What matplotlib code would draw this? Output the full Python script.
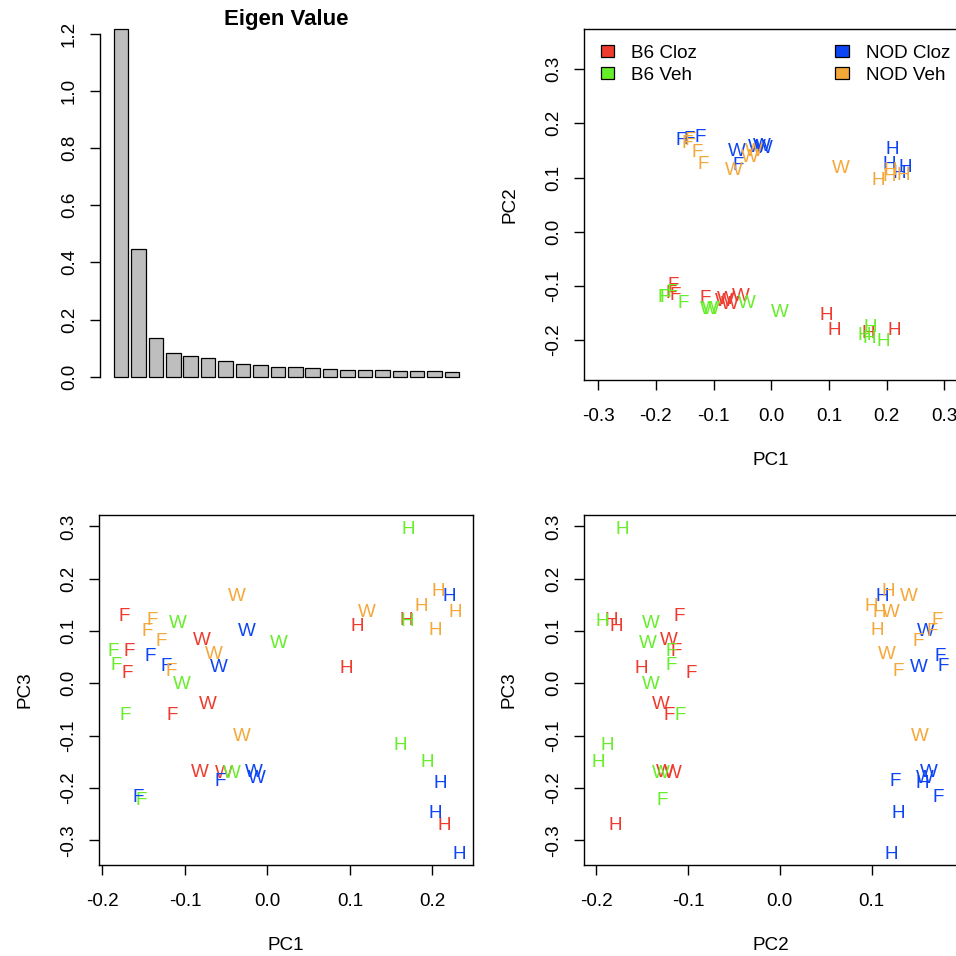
import numpy as np
import matplotlib
matplotlib.use('Agg')
import matplotlib.pyplot as plt
from matplotlib.patches import Patch
import matplotlib.transforms as mtransforms

plt.rcParams['font.family'] = ['Liberation Sans', 'DejaVu Sans']
plt.rcParams['axes.unicode_minus'] = False

# ---------------- data ----------------
eigen_values = [1.214, 0.446, 0.136, 0.084, 0.072, 0.064, 0.056, 0.044, 0.040, 0.035,
                0.033, 0.030, 0.026, 0.024, 0.023, 0.022, 0.020, 0.019, 0.019, 0.018]

groups = ['B6 Cloz', 'B6 Veh', 'NOD Cloz', 'NOD Veh']
group_colors = ['#EE3B2E', '#66EE2A', '#0D45F5', '#F5A83A']

tissue = ['F', 'F', 'F', 'F', 'W', 'W', 'W', 'W', 'H', 'H', 'H', 'H']

b6_cloz_pc1 = [-0.174, -0.167, -0.170, -0.115, -0.079, -0.072, -0.082, -0.053, 0.109, 0.168, 0.095, 0.214]
b6_cloz_pc2 = [-0.110, -0.113, -0.096, -0.120, -0.121, -0.130, -0.125, -0.116, -0.178, -0.184, -0.151, -0.179]
b6_cloz_pc3 = [0.132, 0.065, 0.024, -0.057, 0.086, -0.037, -0.166, -0.169, 0.113, 0.124, 0.033, -0.268]

b6_veh_pc1 = [-0.187, -0.183, -0.172, -0.153, -0.108, 0.0145, -0.104, -0.043, 0.171, 0.170, 0.161, 0.194]
b6_veh_pc2 = [-0.118, -0.118, -0.108, -0.128, -0.140, -0.144, -0.140, -0.129, -0.172, -0.193, -0.188, -0.198]
b6_veh_pc3 = [0.065, 0.038, -0.057, -0.220, 0.119, 0.081, 0.002, -0.169, 0.298, 0.123, -0.114, -0.147]

nod_cloz_pc1 = [-0.142, -0.123, -0.057, -0.156, -0.025, -0.059, -0.017, -0.013, 0.221, 0.209, 0.204, 0.232]
nod_cloz_pc2 = [0.175, 0.178, 0.126, 0.173, 0.159, 0.152, 0.162, 0.158, 0.112, 0.155, 0.129, 0.122]
nod_cloz_pc3 = [0.056, 0.037, -0.184, -0.214, 0.104, 0.035, -0.166, -0.178, 0.170, -0.188, -0.244, -0.323]

nod_veh_pc1 = [-0.140, -0.146, -0.129, -0.117, -0.037, 0.120, -0.065, -0.031, 0.207, 0.186, 0.228, 0.204]
nod_veh_pc2 = [0.172, 0.166, 0.151, 0.129, 0.141, 0.121, 0.1165, 0.153, 0.118, 0.0995, 0.108, 0.106]
nod_veh_pc3 = [0.124, 0.103, 0.084, 0.027, 0.171, 0.140, 0.059, -0.097, 0.180, 0.152, 0.140, 0.106]

pc1_by_group = [b6_cloz_pc1, b6_veh_pc1, nod_cloz_pc1, nod_veh_pc1]
pc2_by_group = [b6_cloz_pc2, b6_veh_pc2, nod_cloz_pc2, nod_veh_pc2]
pc3_by_group = [b6_cloz_pc3, b6_veh_pc3, nod_cloz_pc3, nod_veh_pc3]

# ---------------- layout helpers ----------------
W = H = 956
DPI = 100
FS = 13.6        # pt
CAP = 0.716      # cap height / em
fig = plt.figure(figsize=(W / DPI, H / DPI), dpi=DPI)
PX = 72.0 / DPI  # points per pixel
CAP_PX = CAP * FS / PX


def add_ax(l, t, r, b):
    return fig.add_axes([l / W, 1 - b / H, (r - l) / W, (b - t) / H])


def rlim(vals):
    lo, hi = min(vals), max(vals)
    d = (hi - lo) * 0.04
    return lo - d, hi + d


def style_axis(ax, box_h, box_w, xticks, yticks, xlabel=None, ylabel=None, box=True):
    for s in ax.spines.values():
        s.set_linewidth(1.0)
        s.set_visible(box)
    ax.set_xticks(xticks)
    ax.set_yticks(yticks)
    ax.set_xticklabels(['%.1f' % v for v in xticks])
    ax.set_yticklabels(['%.1f' % v for v in yticks])
    ax.tick_params(axis='both', direction='out', length=10 * PX, width=1.0,
                   labelsize=FS, color='black')
    ax.tick_params(axis='x', pad=(34.5 + CAP_PX / 2 - 10) * PX)
    ax.tick_params(axis='y', pad=(33.0 - CAP_PX / 2 - 10) * PX)
    for lab in ax.get_xticklabels():
        lab.set_va('baseline')
    for lab in ax.get_yticklabels():
        lab.set_rotation(90)
        lab.set_rotation_mode('anchor')
        lab.set_ha('center')
        lab.set_va('baseline')
    if xlabel:
        ax.set_xlabel(xlabel, fontsize=FS, va='baseline')
        ax.xaxis.set_label_coords(0.5, -(78.5 + CAP_PX / 2) / box_h)
    if ylabel:
        ax.set_ylabel(ylabel, fontsize=FS, va='baseline', rotation_mode='anchor')
        ax.yaxis.set_label_coords(-(77.0 - CAP_PX / 2) / box_w, 0.5)


def draw_letters(ax, xs_by_group, ys_by_group):
    off = mtransforms.ScaledTranslation(0, -CAP * FS / 2 / 72.0, fig.dpi_scale_trans)
    tr = ax.transData + off
    for xs, ys, col in zip(xs_by_group, ys_by_group, group_colors):
        for x, y, t in zip(xs, ys, tissue):
            ax.text(x, y, t, color=col, fontsize=FS, ha='center', va='baseline',
                    transform=tr, clip_on=False)


# ---------------- panel 1: eigenvalues ----------------
ax1 = add_ax(100, 15.6, 473.1, 390.6)
bar_x = 0.7 + 1.2 * np.arange(len(eigen_values))
ax1.bar(bar_x, eigen_values, width=1.0, color='#BEBEBE', edgecolor='black', linewidth=0.9)
ax1.set_xlim(-0.752, 24.952)
ax1.set_ylim(-0.0486, 1.2626)
style_axis(ax1, 375.0, 373.1, [], [0.0, 0.2, 0.4, 0.6, 0.8, 1.0, 1.2], box=False)
ax1.spines['left'].set_visible(True)
ax1.spines['left'].set_bounds(0, 1.2)
ax1.tick_params(axis='x', length=0)
ax1.set_title('Eigen Value', fontsize=16, fontweight='bold', va='baseline',
              y=(390.6 - 25.0) / 375.0, pad=0)

all_pc1 = sum(pc1_by_group, [])
all_pc2 = sum(pc2_by_group, [])
all_pc3 = sum(pc3_by_group, [])

# ---------------- panel 2: PC1 vs PC2 ----------------
ax2 = add_ax(584.3, 29.0, 958.2, 380.2)
ax2.set_xlim(-0.324, 0.324)
ax2.set_ylim(-0.274, 0.374)
draw_letters(ax2, pc1_by_group, pc2_by_group)
style_axis(ax2, 351.2, 373.9, [-0.3, -0.2, -0.1, 0.0, 0.1, 0.2, 0.3],
           [-0.2, -0.1, 0.0, 0.1, 0.2, 0.3], 'PC1', 'PC2')
handles = [Patch(facecolor=c, edgecolor='black', linewidth=0.9, label=g)
           for g, c in zip(groups, group_colors)]
ax2.legend(handles=handles, ncol=2, frameon=False, loc='upper left',
           bbox_to_anchor=((600.7 - 584.3) / 373.9, (380.2 - 45.0) / 351.2),
           borderaxespad=0, borderpad=0, fontsize=FS, handlelength=0.72,
           handleheight=0.62, handletextpad=0.9, columnspacing=7.3, labelspacing=0.24)

# ---------------- panel 3: PC1 vs PC3 ----------------
ax3 = add_ax(99.3, 514.5, 472.6, 865.2)
ax3.set_xlim(*rlim(all_pc1))
ax3.set_ylim(*rlim(all_pc3))
draw_letters(ax3, pc1_by_group, pc3_by_group)
style_axis(ax3, 350.7, 373.3, [-0.2, -0.1, 0.0, 0.1, 0.2],
           [-0.3, -0.2, -0.1, 0.0, 0.1, 0.2, 0.3], 'PC1', 'PC3')

# ---------------- panel 4: PC2 vs PC3 ----------------
ax4 = add_ax(584.2, 514.5, 956.9, 865.2)
ax4.set_xlim(*rlim(all_pc2))
ax4.set_ylim(*rlim(all_pc3))
draw_letters(ax4, pc2_by_group, pc3_by_group)
style_axis(ax4, 350.7, 372.7, [-0.2, -0.1, 0.0, 0.1],
           [-0.3, -0.2, -0.1, 0.0, 0.1, 0.2, 0.3], 'PC2', 'PC3')

fig.savefig('out.png', dpi=DPI)
